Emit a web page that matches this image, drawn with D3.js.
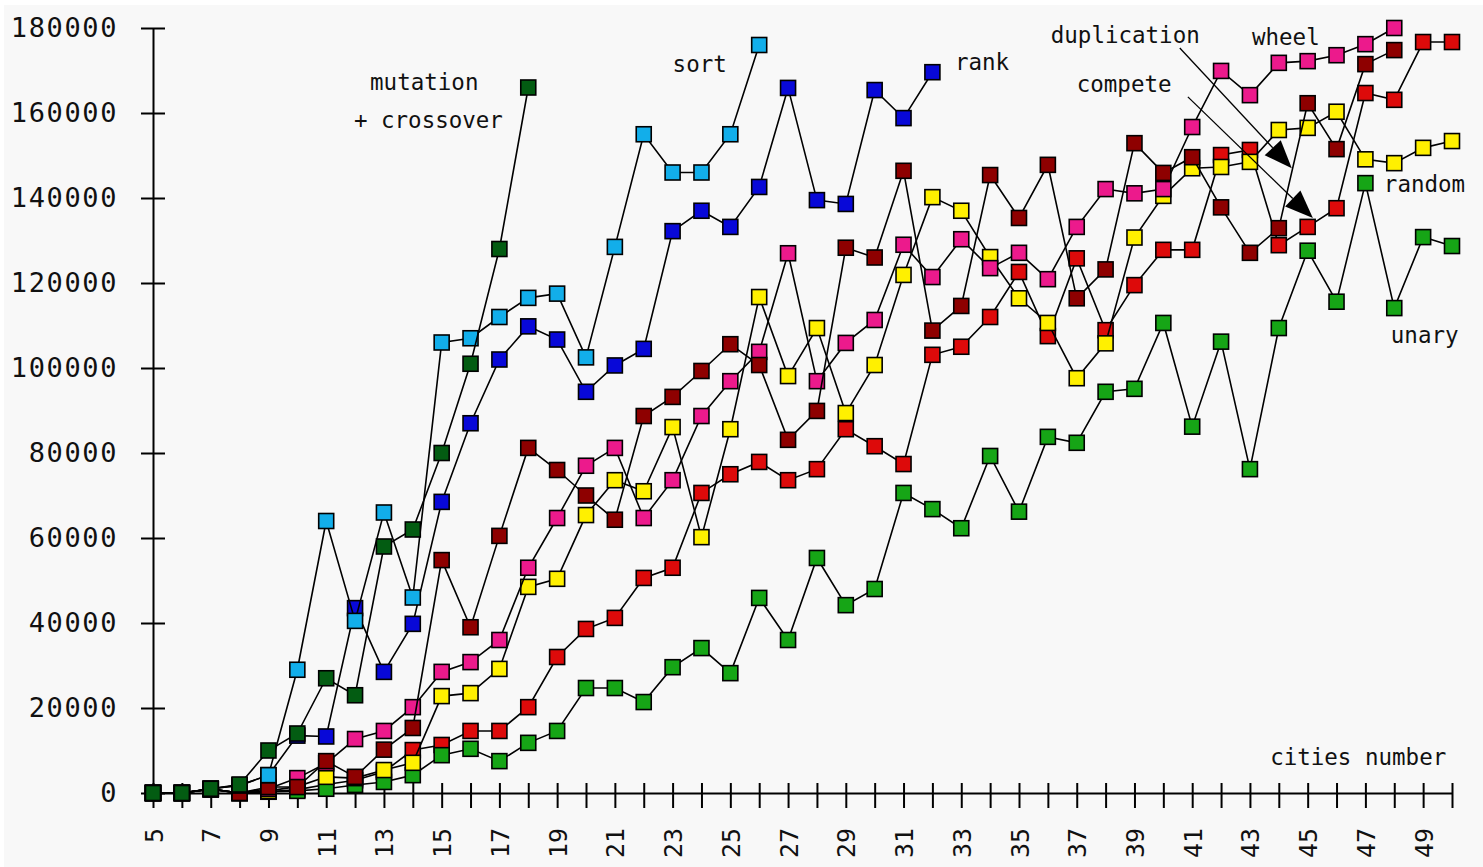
<!DOCTYPE html>
<html>
<head>
<meta charset="utf-8">
<script src="https://cdn.jsdelivr.net/npm/d3@7/dist/d3.min.js"></script>
<style>
  html, body { margin: 0; padding: 0; background: #ffffff; }
  svg { display: block; }
  text { font-family: "DejaVu Sans Mono", monospace; fill: #111; }
</style>
</head>
<body>
<svg id="chart"></svg>
<script>
// cities number (x categories)
const cities = [5, 6, 7, 8, 9, 10, 11, 12, 13, 14, 15, 16, 17, 18, 19, 20, 21, 22, 23, 24, 25, 26, 27,
    28, 29, 30, 31, 32, 33, 34, 35, 36, 37, 38, 39, 40, 41, 42, 43, 44, 45, 46, 47, 48, 49, 50];

// values start at 5 cities
const mutationCrossover = [0, 0, 1000, 2000, 10000, 14000, 27000, 23000, 58000, 62000, 80000, 101000, 128000, 166000];
const sort = [0, 0, 1000, 1800, 4200, 29000, 64000, 40500, 66000, 46000, 106000, 107000, 112000, 116500, 117500,
    102500, 128500, 155000, 146000, 146000, 155000, 176000];
const rank = [0, 0, 1000, 1800, 4200, 13500, 13300, 43500, 28500, 39800, 68500, 87000, 102000, 109800, 106700,
    94400, 100600, 104500, 132200, 137000, 133200, 142600, 165900, 139500, 138600, 165400, 158800, 169600];
const duplication = [0, 0, 900, 0, 1400, 1400, 7500, 3800, 10200, 15300, 54800, 39000, 60500, 81200, 76000,
    70000, 64300, 88700, 93200, 99300, 105600, 100700, 83100, 89900, 128300, 126000, 146400, 108800, 114600,
    145400, 135300, 147800, 116400, 123200, 152900, 145900, 149600, 137800, 127100, 132900, 162300, 151500,
    171500, 174800];
const wheel = [0, 0, 900, 0, 1000, 3500, 7000, 12700, 14600, 20200, 28500, 30800, 36000, 53000, 64700,
    77000, 81200, 64700, 73600, 88700, 96900, 103800, 127000, 96900, 105900, 111300, 129000, 121400, 130300,
    123500, 127100, 120900, 133200, 142100, 141100, 142100, 156700, 169900, 164200, 171800, 172200, 173600,
    176200, 180000];
const compete = [0, 0, 900, 0, 300, 800, 2000, 3000, 5000, 10100, 11300, 14600, 14600, 20200, 32000,
    38600, 41200, 50600, 53000, 70600, 75000, 77900, 73600, 76200, 85600, 81600, 77400, 103100, 105000,
    112000, 122600, 107500, 125800, 108900, 119500, 127800, 127800, 150100, 151300, 128900, 133200, 137600,
    164700, 163100, 176700, 176700];
const random = [0, 0, 900, 0, 500, 1500, 3800, 3500, 5400, 7100, 22800, 23500, 29200, 48500, 50400,
    65400, 73600, 71000, 86100, 60200, 85600, 116700, 98100, 109400, 89400, 100700, 121900, 140200, 137000,
    126100, 116400, 110600, 97600, 105800, 130700, 140500, 147000, 147300, 148500, 156000, 156500, 160300,
    149100, 148200, 151800, 153400];
const unary = [0, 0, 900, 0, 300, 500, 1000, 1900, 2600, 4200, 8900, 10400, 7500, 11800, 14600,
    24700, 24700, 21400, 29600, 34100, 28200, 45900, 36000, 55300, 44200, 48000, 70600, 66800, 62300,
    79300, 66200, 83800, 82400, 94400, 95100, 110600, 86200, 106200, 76200, 109400, 127600, 115600,
    143500, 114100, 130800, 128700];

const yTicks = [0, 20000, 40000, 60000, 80000, 100000, 120000, 140000, 160000, 180000];
const xLabels = [5, 7, 9, 11, 13, 15, 17, 19, 21, 23, 25, 27, 29, 31, 33, 35, 37, 39, 41, 43, 45, 47, 49];

// drawing order, bottom first
const series = [
    { name: "compete", values: compete, color: "#dd0a0a" },
    { name: "unary", values: unary, color: "#16a516" },
    { name: "random", values: random, color: "#fff000" },
    { name: "wheel", values: wheel, color: "#ec1a8c" },
    { name: "duplication", values: duplication, color: "#8e0000" },
    { name: "rank", values: rank, color: "#0808d8" },
    { name: "sort", values: sort, color: "#12aeea" },
    { name: "mutationCrossover", values: mutationCrossover, color: "#035c12" }
];

// labels placed in data coordinates
const labels = [
    { text: "mutation", x: 12.52, y: 165400 },
    { text: "+ crossover", x: 11.96, y: 156500 },
    { text: "sort", x: 23.0, y: 169600 },
    { text: "rank", x: 32.78, y: 170100 },
    { text: "duplication", x: 36.1, y: 176500 },
    { text: "wheel", x: 43.07, y: 176000 },
    { text: "compete", x: 37.0, y: 164900 },
    { text: "random", x: 47.64, y: 141400 },
    { text: "unary", x: 47.88, y: 105900 },
    { text: "cities number", x: 43.7, y: 6600 }
];

const arrows = [
    { from: [40.57, 175300], to: [44.45, 147000] },
    { from: [40.85, 163800], to: [45.18, 135300] }
];

const W = 1483, H = 867;
const svg = d3.select("#chart").attr("width", W).attr("height", H);

svg.append("rect").attr("x", 4).attr("y", 5).attr("width", W - 4).attr("height", H - 5)
    .attr("fill", "#f8f8f8");

const x = d3.scaleLinear().domain([5, 50]).range([153, 1452]);
const y = d3.scaleLinear().domain([0, 180000]).range([793, 28]);

// y axis
const yAxis = svg.append("g")
    .attr("transform", `translate(${x(5)},0)`)
    .call(d3.axisLeft(y).tickValues(yTicks).tickSize(12).tickSizeOuter(0).tickPadding(23).tickFormat(d3.format("d")));
yAxis.select(".domain").attr("stroke", "#000").attr("stroke-width", 2);
yAxis.selectAll(".tick line").attr("x1", 12).attr("stroke", "#000").attr("stroke-width", 2);
yAxis.selectAll(".tick text")
    .style("font-family", "'DejaVu Sans Mono', monospace")
    .style("font-size", "27px").style("letter-spacing", "1.6px").attr("fill", "#111");

// x axis
const xAxis = svg.append("g")
    .attr("transform", `translate(0,${y(0)})`)
    .call(d3.axisBottom(x).tickValues(cities).tickSize(15).tickSizeOuter(0)
        .tickFormat(d => xLabels.includes(d) ? d : ""));
xAxis.select(".domain").attr("stroke", "#000").attr("stroke-width", 2);
xAxis.selectAll(".tick line").attr("y1", -10).attr("stroke", "#000").attr("stroke-width", 2);
xAxis.selectAll(".tick text")
    .attr("transform", "rotate(-90)")
    .attr("x", -35).attr("y", 0).attr("dy", "0.36em")
    .attr("text-anchor", "end")
    .style("font-family", "'DejaVu Sans Mono', monospace")
    .style("font-size", "25px").attr("fill", "#111");

// series
const line = d3.line().x((d, i) => x(cities[i])).y(d => y(d));
const size = 15;

series.forEach(s => {
    const g = svg.append("g").attr("class", "series " + s.name);
    g.append("path")
        .datum(s.values)
        .attr("d", line)
        .attr("fill", "none")
        .attr("stroke", "#000")
        .attr("stroke-width", 1.6);
    g.selectAll("rect")
        .data(s.values)
        .enter()
        .append("rect")
        .attr("x", (d, i) => x(cities[i]) - size / 2)
        .attr("y", d => y(d) - size / 2)
        .attr("width", size)
        .attr("height", size)
        .attr("fill", s.color)
        .attr("stroke", "#000")
        .attr("stroke-width", 1.6);
});

// arrows
arrows.forEach(a => {
    const x1 = x(a.from[0]), y1 = y(a.from[1]);
    const x2 = x(a.to[0]), y2 = y(a.to[1]);
    const ang = Math.atan2(y2 - y1, x2 - x1);
    const len = 28, half = 11;
    const bx = x2 - len * Math.cos(ang), by = y2 - len * Math.sin(ang);
    svg.append("line")
        .attr("x1", x1).attr("y1", y1).attr("x2", bx).attr("y2", by)
        .attr("stroke", "#000").attr("stroke-width", 1.3);
    const px = -Math.sin(ang) * half, py = Math.cos(ang) * half;
    svg.append("path")
        .attr("d", `M${x2},${y2}L${bx + px},${by + py}L${bx - px},${by - py}Z`)
        .attr("fill", "#000");
});

// text labels
svg.selectAll(".label")
    .data(labels)
    .enter()
    .append("text")
    .attr("class", "label")
    .attr("x", d => x(d.x))
    .attr("y", d => y(d.y))
    .style("font-size", "22.5px")
    .text(d => d.text);
</script>
</body>
</html>
